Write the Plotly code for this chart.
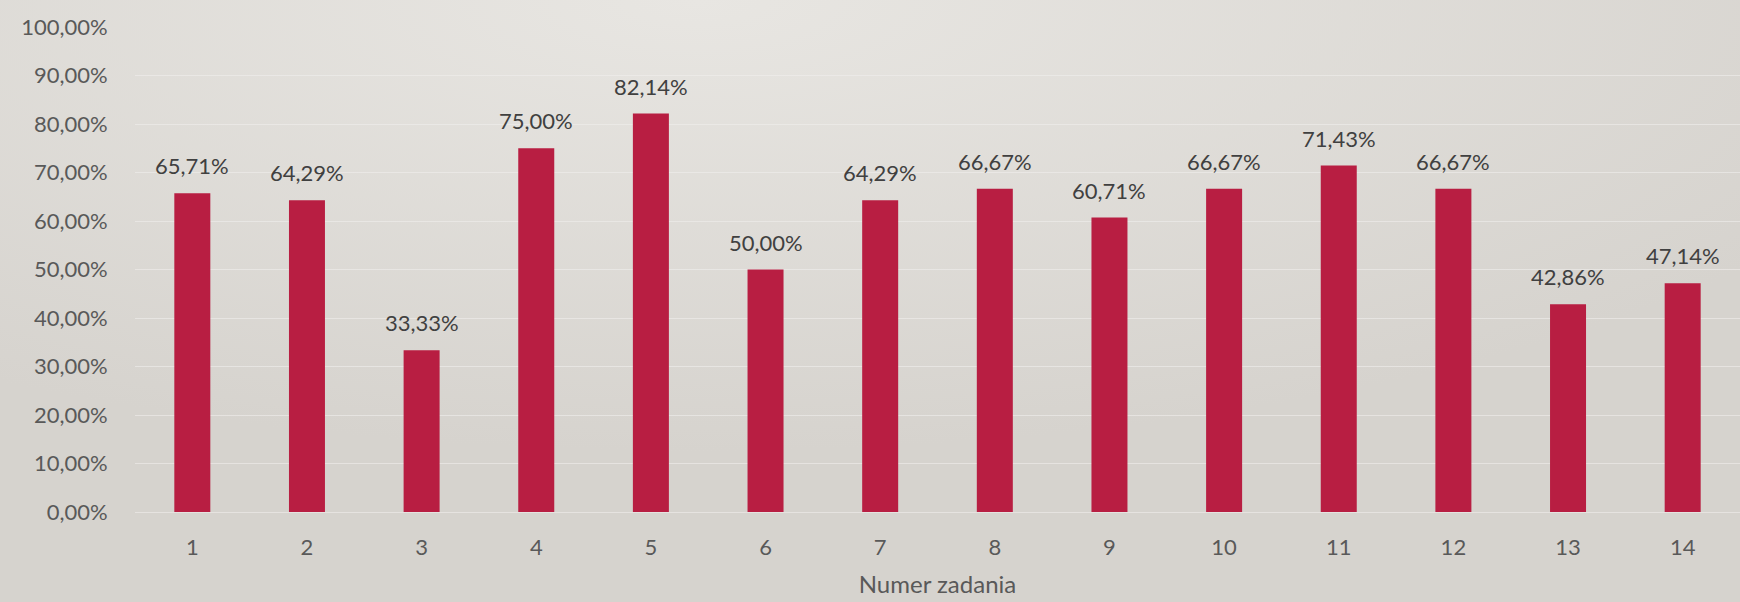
import base64
import plotly.graph_objects as go

categories = ["1", "2", "3", "4", "5", "6", "7", "8", "9", "10", "11", "12", "13", "14"]
values = [0.6571, 0.6429, 0.3333, 0.75, 0.8214, 0.50, 0.6429, 0.6667, 0.6071, 0.6667, 0.7143, 0.6667, 0.4286, 0.4714]
y_ticks = [0, 0.1, 0.2, 0.3, 0.4, 0.5, 0.6, 0.7, 0.8, 0.9, 1.0]

W, H = 1740, 602
ML, MR, MT, MB = 135, 0, 27, 90
pw, ph = W - ML - MR, H - MT - MB

svg = f"""<svg xmlns='http://www.w3.org/2000/svg' width='{W}' height='{H}' viewBox='0 0 {W} {H}' preserveAspectRatio='none'>
<defs><radialGradient id='g' cx='0.4' cy='0' r='0.75' gradientUnits='objectBoundingBox'>
<stop offset='0' stop-color='#E8E6E2'/><stop offset='1' stop-color='#D6D3CE'/></radialGradient></defs>
<rect width='{W}' height='{H}' fill='url(#g)'/></svg>"""
src = "data:image/svg+xml;base64," + base64.b64encode(svg.encode()).decode()

FONT = "Lato, 'Open Sans', sans-serif"

fig = go.Figure(go.Bar(
    x=categories, y=values,
    marker=dict(color="#B81E42", line=dict(width=0)),
    hoverinfo="skip",
))

labels = [f"{v * 100:.2f}%".replace(".", ",") for v in values]
# on a category axis, annotation x is the category index
annotations = [dict(x=i, y=v, xref="x", yref="y", text=t, showarrow=False,
                    yanchor="bottom", yshift=12,
                    font=dict(family=FONT, size=22, color="#404040"))
               for i, (v, t) in enumerate(zip(values, labels))]

fig.update_layout(
    width=W, height=H,
    margin=dict(l=ML, r=MR, t=MT, b=MB),
    paper_bgcolor="#DCD9D4", plot_bgcolor="rgba(0,0,0,0)",
    separators=", ",
    bargap=0.686,
    showlegend=False,
    annotations=annotations,
    images=[dict(source=src, xref="paper", yref="paper",
                 x=-ML / pw, y=1 + MT / ph, sizex=W / pw, sizey=H / ph,
                 sizing="stretch", xanchor="left", yanchor="top", layer="below")],
    font=dict(family=FONT, size=22, color="#595959"),
)
fig.update_yaxes(range=[0, 1], tickvals=y_ticks, tickformat=".2%",
                 showgrid=True, gridcolor="rgba(240,239,237,0.6)", gridwidth=1,
                 zeroline=False, showline=False,
                 ticks="outside", ticklen=22, tickcolor="rgba(0,0,0,0)",
                 tickfont=dict(size=22, color="#595959"))
fig.update_xaxes(type="category", categoryorder="array", categoryarray=categories,
                 range=[-0.5, len(categories) - 0.5],
                 showgrid=False, showline=True, linecolor="rgba(240,239,237,0.6)", linewidth=1,
                 ticks="outside", ticklen=16, tickcolor="rgba(0,0,0,0)",
                 tickfont=dict(size=22, color="#595959"),
                 title=dict(text="Numer zadania", font=dict(size=24, color="#595959"), standoff=16))

fig.write_html("out.html", config={"displayModeBar": False},
               post_script="document.body.style.margin='0';document.body.style.padding='0';")
